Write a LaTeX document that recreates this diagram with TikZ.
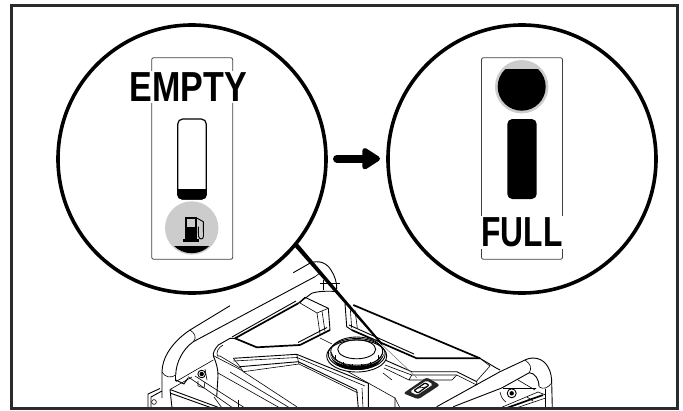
\documentclass[tikz,border=0pt]{standalone}
\usepackage{graphicx}
\usepackage{fontspec}
\setmainfont{Liberation Sans}
\usetikzlibrary{arrows.meta}
\definecolor{gaugegray}{HTML}{CCCCCC}
\definecolor{framedark}{HTML}{2A2A2A}
\tikzset{
  lens/.style={circle,draw=black,line width=3.6pt,fill=white,minimum size=268pt,inner sep=0pt},
  panelbox/.style={draw=black!75,line width=0.8pt,rounded corners=2pt},
  bigword/.style={font=\bfseries\fontsize{42pt}{42pt}\selectfont,fill=white,inner sep=1.5pt,anchor=base},
  thinl/.style={draw=black,line width=0.6pt,line join=round},
  medl/.style={draw=black,line width=0.9pt,line join=round},
  heavyl/.style={draw=black,line width=1.7pt,line join=round},
  softl/.style={draw=black!55,line width=0.5pt},
}
\begin{document}
\begin{tikzpicture}[x=1pt,y=-1pt]
\useasboundingbox (0,0) rectangle (683,410);
\fill[white] (0,0) rectangle (683,410);

% ---------- generator ----------
\begin{scope}
\clip (11,6) rectangle (678,408);
% left handle
\draw[medl] (230,305.7) -- (190,330) .. controls (172,342) and (162,358) .. (162,372) -- (162,398);
\draw[medl] (293.3,272.7) -- (306.7,265) .. controls (314,260) and (325,260) .. (331,270) .. controls (335,276) and (337,283) .. (336.7,289);
\draw[medl] (315,276.7) -- (193.3,341.7) .. controls (183,349) and (176,362) .. (175.7,375);
\draw[thinl] (190,330) .. controls (195,333) and (197,338) .. (193.3,341.7);
\draw[thinl] (162,372) .. controls (165,378) and (172,378) .. (175.7,375);
\draw[thinl] (175.7,375) -- (175.7,381);
\draw[thinl] (315,276.7) -- (320,273);
\draw[thinl] (323,280) -- (323,290) (320,283) -- (340,283);
% left bracket
\draw[medl] (148,407) -- (148,394) -- (160,388.5) (151,407) -- (151,397) -- (162,391);
\draw[thinl] (154,402) circle (2.4);
% left base
\draw[medl] (170,389.5) -- (220,408) (170,389.5) -- (172,408) (170,393) -- (212,408);
\draw[thinl] (170,389.5) -- (192,377) (176,381.5) -- (213.3,360);
\draw[medl] (176,380) -- (184,384) -- (188,378);
\draw[thinl] (188,376.7) -- (233,408) (195,376) -- (245,408);
\draw[thinl] (198,381) -- (198,386) -- (204,388) -- (205,382);
\draw[medl] (201.7,374) circle (3.8);
\fill (201.7,374) circle (2.2);
\draw[thinl] (205,369) -- (207,380);
% top outer boundary
\draw[medl] (298.3,303.3) -- (311.7,293.3) .. controls (318,291) and (328,291) .. (336.7,291.5);
\draw[medl] (235,338.3) -- (230,338.3) -- (218.3,345) .. controls (214,350) and (213,353) .. (213.3,356) .. controls (217,364) and (218,370) .. (218,376) -- (216.7,397);
\draw[thinl] (223,345) .. controls (218,348) and (216,352) .. (217.5,356) -- (220,356) -- (240,368);
\draw[thinl] (214,356) -- (243,371);
\draw[thinl] (214,397) -- (222,408);
% left recess
\draw[heavyl] (235,338.3) -- (298.3,303.3);
\draw[medl] (232,337) -- (296,301);
\draw[medl] (298.3,303.3) -- (305,297.3) -- (328.3,308.3) -- (330,330);
\draw[thinl] (305,297.3) -- (300,303) -- (317,313) -- (328.3,308.3);
\draw[thinl] (317,313) -- (320,334) (322,311) -- (325,331.5);
\draw[heavyl] (330,330) -- (300,345);
\draw[medl] (327,327.5) -- (298,342.5);
\draw[heavyl] (300,345) -- (256.7,347.3) -- (235,338.3);
% lower left recess (double bevel)
\draw[medl] (233.3,358.3) -- (296.7,354.3) -- (368.3,383.3) -- (368.3,408);
\draw[thinl] (233.3,361) -- (297,357.5) -- (365,386);
\draw[medl] (240,366.7) -- (298.3,361.7) -- (356.7,390) -- (358.3,408);
\draw[thinl] (233.3,358.3) -- (240,366.7) -- (243.3,371.7) -- (296.7,406.7);
\draw[thinl] (243.3,371.7) -- (299,364) (296.7,354.3) -- (299,364) -- (358,393);
\draw[thinl] (362,388) -- (363,408);
\draw[thinl] (218,373) -- (280,408) (230,372) -- (290,408);
\draw[thinl] (238,400) -- (238,408);
\draw[thinl] (320,338) -- (332,344);
% right recess
\draw[medl] (345,303.3) -- (346.7,326.7) -- (351.7,330);
\draw[thinl] (350,305) -- (351.7,328) (355,310) -- (357.3,328);
\draw[heavyl] (351.7,330) -- (416.7,358.3) -- (480,358.3);
\draw[medl] (349,325) -- (414,354);
\draw[heavyl] (353.3,305) -- (480,358.3);
\draw[medl] (480,358.3) -- (496.7,368.3) -- (500,370);
\draw[thinl] (480,358.3) -- (490,366) -- (476.7,381);
% right lower bevel
\draw[medl] (385,360) -- (411.7,371.7) -- (456.7,371.7) -- (476.7,381.7) -- (476.7,385);
\draw[thinl] (385,365) -- (411.7,375) -- (456.7,375) -- (476.7,385);
\draw[thinl] (384,368) -- (409,380) (411.7,375) -- (409,380) -- (452,380) -- (456.7,375);
\draw[thinl] (345,370) -- (395,398) -- (395,408);
\draw[thinl] (395,398) -- (400,408);
\draw[thinl] (383,373) -- (392,380);
% fuel cap
\fill[white] (356.7,354.5) ellipse (30.5 and 17.5);
\draw[medl] (356.7,356) ellipse (30 and 16);
\draw[medl] (356.7,354) ellipse (28.5 and 15.5);
\draw[medl] (356.7,351.5) ellipse (26 and 14.5);
\fill[black] (329.5,353) .. controls (332,366) and (345,370) .. (356.7,370) .. controls (368,370) and (381,366) .. (384.5,353) -- (382,357) .. controls (377,364) and (368,366) .. (356.7,366) .. controls (345,366) and (336,364) .. (331,357) -- cycle;
\draw[medl] (356.7,349.3) ellipse (19 and 9.5);
\foreach \kx/\ky in {335/355,343/362,352/364,361/364,370/362,378/355}
  \draw[thinl] (\kx,\ky) -- (\kx,\ky+5);
\draw[thinl] (331,352) .. controls (335,363) and (346,365) .. (356.7,365) .. controls (368,365) and (379,363) .. (383,352);
% switch
\fill[rounded corners=2.5pt,black!85] (403.3,393.3) -- (426.7,377.3) -- (440,385) -- (418.3,399.3) -- cycle;
\fill[rounded corners=1.5pt,white] (410,391.5) -- (426.5,380.5) -- (433,384.5) -- (417,395) -- cycle;
\draw[line width=1.2pt,rounded corners=1pt] (414,390.5) -- (425,383) -- (429,385) -- (418,393) -- cycle;
\draw[thinl] (418,388) -- (427,387);
% right handle
\draw[medl] (436.7,406.7) -- (500,371.7) -- (525,360) .. controls (533,356) and (543,358) .. (548,367) .. controls (551,372) and (551.7,378) .. (551.7,383) -- (552.3,408);
\draw[medl] (453.3,406.7) -- (501.7,388) -- (529.3,372.7) .. controls (535,373) and (539,379) .. (539,386.7);
\draw[thinl] (525,360) .. controls (530.7,364) and (532,368) .. (529.3,372.7);
\draw[thinl] (539,386.7) .. controls (543,390) and (548,388) .. (551.7,383);
\draw[medl] (545.7,388.5) -- (545.7,408);
\draw[thinl] (518,380) -- (535,390) (503,388.5) -- (536,388.5);
% right base
\draw[medl] (511.7,393.3) circle (4.5);
\fill (511.7,393.3) circle (2.2);
\draw[heavyl] (506.7,408) -- (543,395);
\draw[thinl] (500,408) -- (538,392) (538,392) -- (545.7,395) (516,408) -- (545.7,398);
\draw[thinl] (500,392) .. controls (501,397) and (503,400) .. (506,402);
\draw[thinl] (527,397) -- (533,401);
\end{scope}

% ---------- leader wedge ----------
\fill[black] (293.6,245.5) -- (297.2,242.8) -- (383,344) -- (381.5,345) -- cycle;
\draw[softl] (381.8,344.5) -- (417,378);

% ---------- lenses ----------
\node[lens] (lensempty) at (192,159) {};
\node[lens] (lensfull) at (522,159) {};

% ---------- arrow ----------
\coordinate (arrowstart) at (337,158.7);
\coordinate (arrowend) at (380,158.7);
\draw[line width=8pt,line cap=round,-{Triangle[length=20pt,width=24pt,round=false]}] (arrowstart) -- (arrowend);

% ---------- empty panel ----------
\node[panelbox,minimum width=81pt,minimum height=201.6pt,inner sep=0pt] (panelempty) at (192.2,158.5) {};
\node[draw=black,line width=1.2pt,rounded corners=5pt,minimum width=28.6pt,minimum height=80pt,inner sep=0pt] (gaugeempty) at (192,159) {};
\fill[black,rounded corners=5pt] (177.1,189) -- (206.9,189) -- (206.9,199.6) -- (177.1,199.6) -- cycle;
\fill[black] (177.1,189) rectangle (206.9,193);
\node[circle,fill=gaugegray,minimum size=53.4pt,inner sep=0pt] (pumpdisc) at (191.7,228) {};
\begin{scope}
\clip (191.7,228) circle (25.2);
\fill[black] (160,246) rectangle (225,260);
\end{scope}
% pump icon
\fill[black] (184.7,217.3) rectangle (197.3,239.5);
\fill[gaugegray] (187,219) rectangle (195,227.3);
\fill[black] (183.3,239.3) rectangle (199,241.7);
\draw[line width=0.9pt,line join=round] (197.3,218.3) -- (203.3,221.7) -- (203.5,236) .. controls (203.5,240) and (199,240) .. (198.5,236) -- (198.3,226.7);
% EMPTY
\node[bigword] (wordempty) at (188.5,101) {\scalebox{.81}[1]{EMPTY}};

% ---------- full panel ----------
\node[panelbox,minimum width=81pt,minimum height=201.6pt,inner sep=0pt] (panelfull) at (522,158.5) {};
\node[circle,fill=gaugegray,minimum size=53.4pt,inner sep=0pt] (fulldisc) at (521.7,86.7) {};
\begin{scope}
\clip (521.7,86.7) circle (24);
\fill[black] (490,69.3) rectangle (555,115);
\end{scope}
\node[fill=black,rounded corners=5pt,minimum width=29.4pt,minimum height=80pt,inner sep=0pt] (gaugefull) at (522,159) {};
% FULL
\node[bigword] (wordfull) at (522,246.7) {\scalebox{.756}[1]{FULL}};

% ---------- frame ----------
\draw[draw=framedark,line width=2.8pt] (11.3,5.8) rectangle (677.5,408.8);
\end{tikzpicture}
\end{document}
